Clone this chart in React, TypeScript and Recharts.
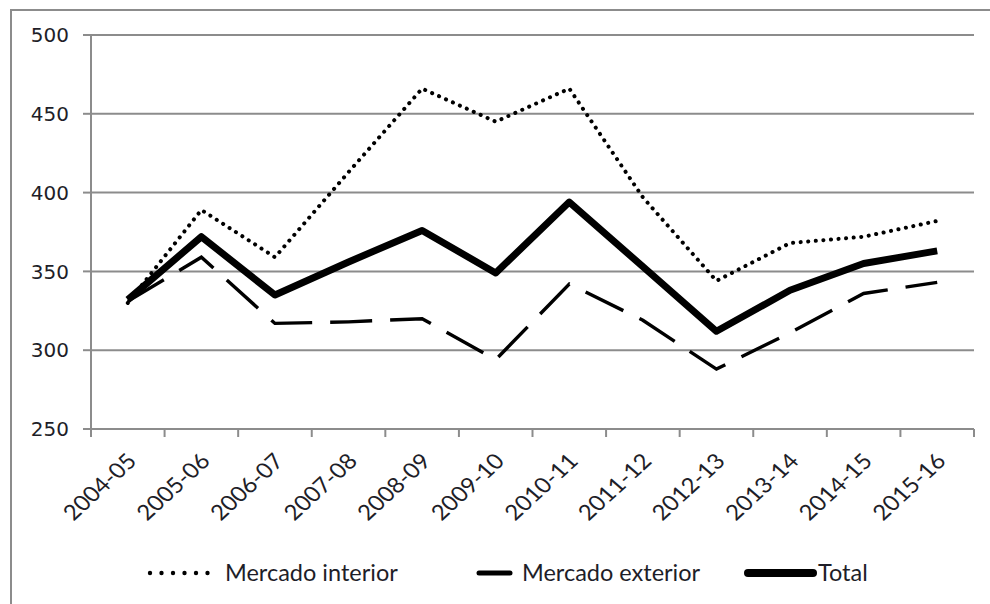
import { LineChart, Line, XAxis, YAxis, CartesianGrid } from 'recharts';

const categories = [
  '2004-05', '2005-06', '2006-07', '2007-08', '2008-09', '2009-10',
  '2010-11', '2011-12', '2012-13', '2013-14', '2014-15', '2015-16'
];
const interior = [330, 389, 359, 413, 466, 445, 466, 397, 344, 368, 372, 382];
const exterior = [331, 359, 317, 318, 320, 294, 342, 319, 288, 311, 336, 343];
const total = [332, 372, 335, 356, 376, 349, 394, 353, 312, 338, 355, 363];
const yTicks = [250, 300, 350, 400, 450, 500];

const data = categories.map((c, i) => ({
  year: c,
  interior: interior[i],
  exterior: exterior[i],
  total: total[i]
}));

const W = 990;
const H = 604;
const PLOT_LEFT = 91;
const PLOT_RIGHT = 974;
const BAND = (PLOT_RIGHT - PLOT_LEFT) / categories.length;
const GRID = '#8c8c8c';
const TEXT = '#1e1e28';

const XTick = (props: any) => {
  const { x, y, payload, index } = props;
  const left = x - BAND / 2;
  return (
    <g>
      <line x1={left} x2={left} y1={y - 10} y2={y - 2} stroke={GRID} strokeWidth={2} />
      {index === categories.length - 1 && (
        <line x1={x + BAND / 2} x2={x + BAND / 2} y1={y - 10} y2={y - 2} stroke={GRID} strokeWidth={2} />
      )}
      <g transform={`translate(${x + 4},${y + 18}) scale(1.12,1) rotate(-46)`}>
        <text
          textAnchor="end"
          dy="0.35em"
          fill={TEXT}
          fontSize={21.5}
          fontFamily="Lato, 'Open Sans', sans-serif"
        >
          {payload.value}
        </text>
      </g>
    </g>
  );
};

const legendText = {
  fontFamily: "Lato, 'Open Sans', sans-serif",
  fontSize: 23.5,
  color: TEXT,
  position: 'absolute' as const,
  top: 0,
  lineHeight: '28px'
};

const ChartLegend = () => (
  <div style={{ position: 'absolute', left: 0, top: 558, width: W, height: 28 }}>
    <svg width={W} height={28} style={{ position: 'absolute', left: 0, top: 0 }}>
      {[0, 1, 2, 3, 4, 5].map((i) => (
        <circle key={i} cx={150 + i * 11.5} cy={15} r={2.2} fill="#000" />
      ))}
      <line x1={479} x2={510} y1={15} y2={15} stroke="#000" strokeWidth={5} strokeLinecap="round" />
      <line x1={748} x2={813} y1={15} y2={15} stroke="#000" strokeWidth={8} strokeLinecap="round" />
    </svg>
    <span style={{ ...legendText, left: 225 }}>Mercado interior</span>
    <span style={{ ...legendText, left: 522 }}>Mercado exterior</span>
    <span style={{ ...legendText, left: 818 }}>Total</span>
  </div>
);

export default function App() {
  return (
    <div style={{ position: 'absolute', left: 0, top: 0, width: W, height: H, background: '#fff', overflow: 'hidden' }}>
      <div
        style={{
          position: 'absolute',
          left: 10,
          top: 9,
          width: W,
          height: H,
          borderLeft: `2px solid ${GRID}`,
          borderTop: `2px solid ${GRID}`
        }}
      />
      <div style={{ position: 'absolute', left: 0, top: 0 }}>
        <LineChart width={W} height={H} data={data} margin={{ top: 35, right: W - PLOT_RIGHT, left: 0, bottom: 0 }}>
          <CartesianGrid vertical={false} stroke={GRID} strokeWidth={2} />
          <XAxis
            dataKey="year"
            height={175}
            interval={0}
            padding={{ left: BAND / 2, right: BAND / 2 }}
            axisLine={{ stroke: GRID, strokeWidth: 2 }}
            tickLine={false}
            tickSize={8}
            tickMargin={2}
            tick={<XTick />}
          />
          <YAxis
            width={PLOT_LEFT}
            domain={[250, 500]}
            ticks={yTicks}
            interval={0}
            axisLine={{ stroke: GRID, strokeWidth: 2 }}
            tickLine={{ stroke: GRID, strokeWidth: 2 }}
            tickSize={8}
            tickMargin={14}
            tick={{ fill: TEXT, fontSize: 20, fontFamily: "'DejaVu Sans', Verdana, sans-serif" }}
          />
          <Line
            dataKey="interior"
            stroke="#000"
            strokeWidth={4}
            strokeDasharray="0.1 7.5"
            strokeLinecap="round"
            dot={false}
            isAnimationActive={false}
          />
          <Line
            dataKey="exterior"
            stroke="#000"
            strokeWidth={3.4}
            strokeDasharray="42 18"
            dot={false}
            isAnimationActive={false}
          />
          <Line
            dataKey="total"
            stroke="#000"
            strokeWidth={7}
            strokeLinejoin="round"
            dot={false}
            isAnimationActive={false}
          />
        </LineChart>
      </div>
      <ChartLegend />
    </div>
  );
}
